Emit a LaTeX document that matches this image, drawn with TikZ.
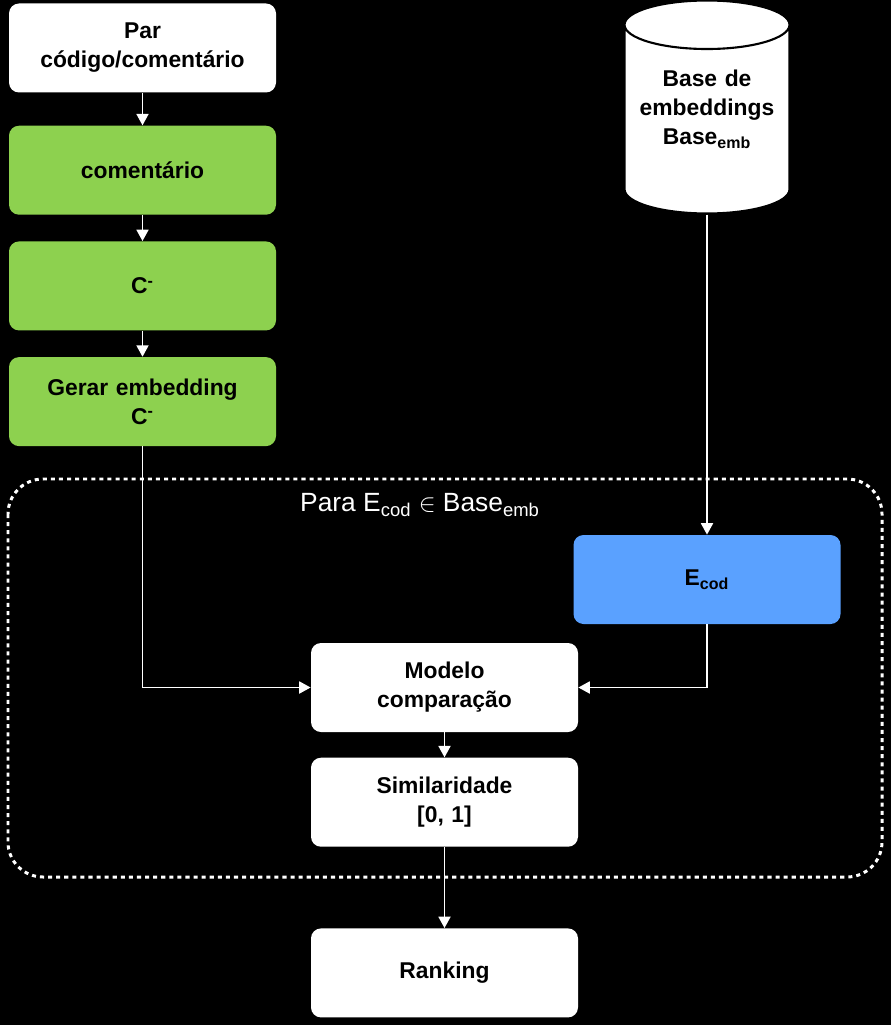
\documentclass[tikz,border=0pt]{standalone}
\usepackage{fontspec}
\setmainfont{Liberation Sans}
\usetikzlibrary{positioning,shapes.geometric,arrows.meta}
\definecolor{boxgreen}{RGB}{141,209,79}
\definecolor{boxblue}{RGB}{90,161,255}

\begin{document}
\begin{tikzpicture}[node distance=0.52cm, font=\fontsize{13}{16.5}\selectfont\bfseries]

\tikzstyle{s1} = [rectangle, rounded corners=0.2cm, minimum width=5.34cm, minimum height=1.78cm, text width=5cm, align=center, fill=white, text=black]

\tikzstyle{s2} = [s1, fill=boxgreen]

\tikzstyle{s3} = [s1, fill=boxblue]

\tikzstyle{s4} = [cylinder, shape border rotate=90, aspect=0.3, minimum width=3.3cm, minimum height=4.26cm, text width=3cm, align=center, fill=white, draw=black, line width=1.2pt]

\tikzstyle{s5} = [draw=white, line width=1.7pt, dash pattern=on 2.3pt off 2.3pt, rounded corners=0.7cm]

\tikzstyle{arr} = [draw=white, line width=1.1pt, -{Triangle[width=6.8pt,length=6.5pt]}]

    \useasboundingbox (0,0) rectangle (17.82,-20.5);
    \fill [black] (0,0) rectangle (17.82,-20.5);

    \node [s1] (A) at (2.85,-0.96) {Par\\código/comentário};
    \node [s2, below=0.65cm of A] (B) {comentário};
    \node [s2, below=of B] (C) {C\textsuperscript{-}};
    \node [s2, below=of C] (D) {Gerar embedding\\C\textsuperscript{-}};

    \node [s4, anchor=shape center, text depth=1.85cm] (H) at (14.14,-2.14) {Base de\\embeddings\\Base\textsubscript{emb}};
    \node [s3] (E) at (14.14,-11.59) {E\textsubscript{cod}};

    \node [s1] (F) at (8.89,-13.75) {Modelo\\comparação};
    \node [s1, below=0.5cm of F] (G) {Similaridade\\{[0, 1]}};
    \node [s1, below=1.62cm of G] (I) {Ranking};

    \draw [s5] (0.16,-9.58) rectangle (17.64,-17.54);
    \node [text=white, font=\fontsize{15}{18}\selectfont] (T) at (8.4,-10.1) {Para E\textsubscript{cod} $\in$ Base\textsubscript{emb}};

    \draw [arr] (A) -- (B);
    \draw [arr] (B) -- (C);
    \draw [arr] (C) -- (D);
    \draw [arr] (D) |- (F);
    \draw [arr] (H) -- (E);
    \draw [arr] (E) |- (F);
    \draw [arr] (F) -- (G);
    \draw [arr] (G) -- (I);

\end{tikzpicture}
\end{document}
